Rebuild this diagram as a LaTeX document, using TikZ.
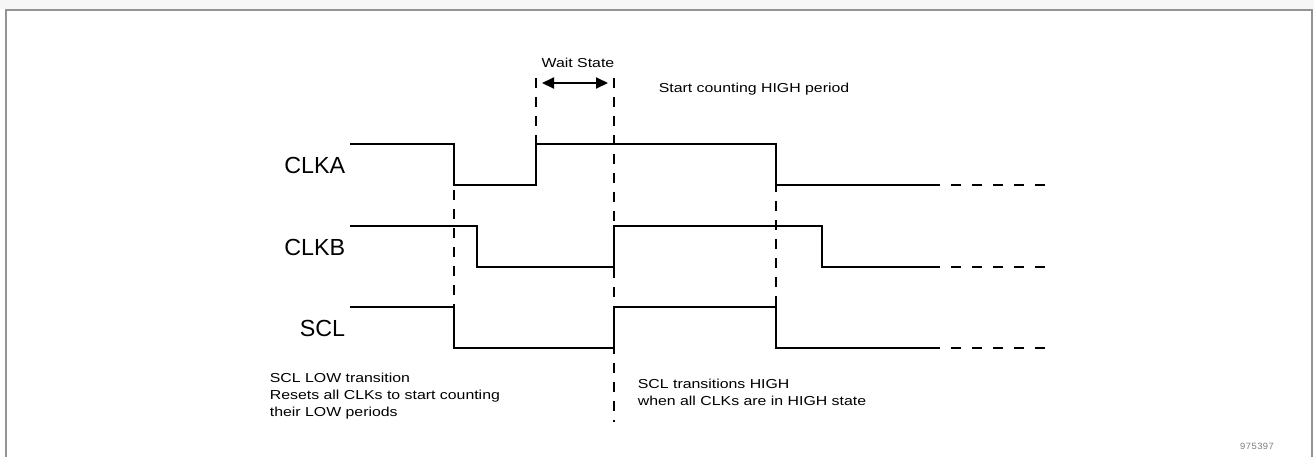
\documentclass[tikz,border=0pt]{standalone}
\usepackage{fontspec}
\setmainfont{Liberation Sans}
\setmonofont{Liberation Mono}
\newfontfamily\notefont[FakeStretch=1.22]{Liberation Sans}
\usetikzlibrary{arrows.meta, positioning, calc}

\begin{document}
\begin{tikzpicture}[x=1pt, y=-1pt, line width=1.7pt, >={Triangle[length=12pt, width=11pt]},
  guide/.style={dash pattern=on 10pt off 9pt},
  tail/.style={dash pattern=on 10pt off 11pt},
  sig/.style={font=\fontsize{23.3}{26}\selectfont, anchor=base east, inner sep=0pt},
  note/.style={font=\notefont\fontsize{13}{16.7}\selectfont, align=left, inner sep=0pt}]
  \useasboundingbox (0,0) rectangle (1314,456);
  \fill[gray!7] (0,0) rectangle (1314,9);
  \draw[gray!85, line width=1.5pt] (6,460) -- (6,10) -- (1312,10) -- (1312,460);

  % signal names
  \node[sig] (clka) at (346,173) {CLKA};
  \node[sig] (clkb) at (346,255) {CLKB};
  \node[sig] (scl)  at (346,336) {SCL};

  % waveforms
  \draw (350,144) -- (454,144) -- (454,185) -- (536,185) -- (536,144) -- (776,144) -- (776,185) -- (930,185);
  \draw (350,226) -- (477,226) -- (477,267) -- (614,267) -- (614,226) -- (822,226) -- (822,267) -- (930,267);
  \draw (350,307) -- (454,307) -- (454,348) -- (614,348) -- (614,307) -- (776,307) -- (776,348) -- (930,348);
  \foreach \y in {185,267,348}
    \draw[tail] (930,\y) -- (1047,\y);

  % edges
  \draw[guide] (454,190) -- (454,348);
  \draw[guide] (536,78) -- (536,144);
  \draw[guide] (614,78) -- (614,422);
  \draw[guide] (776,144) -- (776,307);

  % wait state
  \coordinate (wsl) at (536,83);
  \coordinate (wsr) at (614,83);
  \node[note, anchor=base] (wait) at (578,67.3) {Wait State};
  \draw[<->, line width=2pt, shorten <=6pt, shorten >=6pt] (wsl) -- (wsr);
  \node[note, anchor=base west] (hicount) at (658,92.5) {Start counting HIGH period};

  % notes
  \node[note, anchor=north west] (lownote) at (269,372.5)
    {SCL LOW transition\\Resets all CLKs to start counting\\their LOW periods};
  \node[note, anchor=north west] (highnote) at (637,378.5)
    {SCL transitions HIGH\\when all CLKs are in HIGH state};

  \node[font=\ttfamily\fontsize{9.5}{11}\selectfont, text=gray] (figno) at (1257,446) {975397};
\end{tikzpicture}
\end{document}
